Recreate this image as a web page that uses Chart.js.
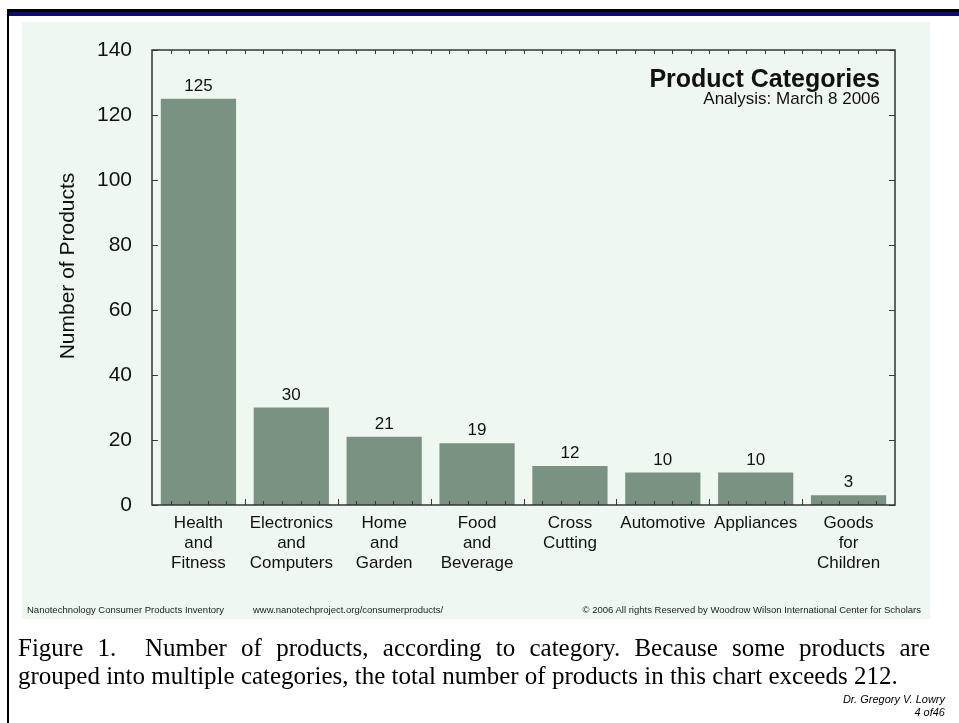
<!DOCTYPE html>
<html>
<head>
<meta charset="utf-8">
<script src="https://cdn.jsdelivr.net/npm/chart.js@4.4.0/dist/chart.umd.min.js"></script>
<style>
  html, body { margin: 0; padding: 0; background: #ffffff; }
  body { width: 959px; height: 723px; position: relative; overflow: hidden; font-family: "Liberation Sans", Arial, sans-serif; }
  .abs { position: absolute; }
  #topBlack { left: 7px; top: 9px; width: 952px; height: 3px; background: #000; }
  #topBlue { left: 7px; top: 12px; width: 952px; height: 4px; background: #0c0c6e; }
  #leftLine { left: 7px; top: 9px; width: 2px; height: 714px; background: #000; }
  #panel { left: 22px; top: 22px; width: 908px; height: 597px; background: #eef8f0; }
  #chartCanvas { left: 0; top: 0; }
  #title { right: 79px; top: 64px; font: bold 25px "Liberation Sans", Arial, sans-serif; color: #111; text-align: right; white-space: nowrap; }
  #subtitle { right: 79px; top: 89px; font: 17px "Liberation Sans", Arial, sans-serif; color: #111; text-align: right; white-space: nowrap; }
  .foot { top: 604px; font: 9.5px "Liberation Sans", Arial, sans-serif; color: #222; white-space: nowrap; }
  .cap { left: 18px; width: 912px; font: 25px "Liberation Serif", "Times New Roman", serif; line-height: 28px; color: #000; white-space: nowrap; }
  #cap1 { top: 634px; text-align: justify; text-align-last: justify; }
  #cap2 { top: 662px; text-align: left; }
  #author { right: 14px; top: 693px; font: italic 11px "Liberation Sans", Arial, sans-serif; color: #000; text-align: right; line-height: 13px; }
</style>
</head>
<body>
<div id="panel" class="abs"></div>
<div id="topBlack" class="abs"></div>
<div id="topBlue" class="abs"></div>
<div id="leftLine" class="abs"></div>
<canvas id="chartCanvas" class="abs" width="959" height="723"></canvas>
<div id="title" class="abs">Product Categories</div>
<div id="subtitle" class="abs">Analysis: March 8 2006</div>
<div class="abs foot" style="left:27px;">Nanotechnology Consumer Products Inventory</div>
<div class="abs foot" style="left:253px;">www.nanotechproject.org/consumerproducts/</div>
<div class="abs foot" style="right:38px;">© 2006 All rights Reserved by Woodrow Wilson International Center for Scholars</div>
<div id="cap1" class="abs cap">Figure 1.&nbsp; Number of products, according to category. Because some products are</div>
<div id="cap2" class="abs cap">grouped into multiple categories, the total number of products in this chart exceeds 212.</div>
<div id="author" class="abs">Dr. Gregory V. Lowry<br>4 of46</div>

<script>
// Product categories and counts
const categories = [
  ["Health", "and", "Fitness"],
  ["Electronics", "and", "Computers"],
  ["Home", "and", "Garden"],
  ["Food", "and", "Beverage"],
  ["Cross", "Cutting"],
  ["Automotive"],
  ["Appliances"],
  ["Goods", "for", "Children"]
];
const productCounts = [125, 30, 21, 19, 12, 10, 10, 3];
const yTicks = [0, 20, 40, 60, 80, 100, 120, 140];

const axisTitle = "Number of Products";

// Frame, inward tick marks, value labels and the vertical axis title
const framePlugin = {
  id: "frameAndLabels",
  afterDatasetsDraw(chart) {
    const ctx = chart.ctx;
    const a = chart.chartArea;
    const y = chart.scales.y;
    ctx.save();
    ctx.strokeStyle = "#3a3a3a";
    ctx.lineWidth = 1;
    // minor ticks along top and bottom edges (five per category)
    const n = categories.length * 5;
    const step = (a.right - a.left) / n;
    for (let k = 1; k < n; k++) {
      const x = Math.round(a.left + k * step) + 0.5;
      const len = (k % 5 === 0) ? 6 : 4;
      ctx.beginPath();
      ctx.moveTo(x, a.top); ctx.lineTo(x, a.top + 4);
      ctx.moveTo(x, a.bottom); ctx.lineTo(x, a.bottom - len);
      ctx.stroke();
    }
    // major ticks on left and right edges
    yTicks.forEach(v => {
      const py = Math.round(y.getPixelForValue(v)) + 0.5;
      ctx.beginPath();
      ctx.moveTo(a.left, py); ctx.lineTo(a.left + 6, py);
      ctx.moveTo(a.right, py); ctx.lineTo(a.right - 6, py);
      ctx.stroke();
    });
    // plot frame
    ctx.lineWidth = 1.5;
    ctx.strokeStyle = "#333";
    ctx.strokeRect(a.left, a.top, a.right - a.left, a.bottom - a.top);

    // value labels above the bars
    ctx.fillStyle = "#111";
    ctx.font = "17px 'Liberation Sans', Arial, sans-serif";
    ctx.textAlign = "center";
    ctx.textBaseline = "alphabetic";
    const meta = chart.getDatasetMeta(0);
    meta.data.forEach((bar, i) => {
      ctx.fillText(String(productCounts[i]), bar.x, bar.y - 8);
    });

    // rotated axis title
    ctx.font = "21px 'Liberation Sans', Arial, sans-serif";
    ctx.textBaseline = "middle";
    ctx.translate(68, 266);
    ctx.rotate(-Math.PI / 2);
    ctx.fillText(axisTitle, 0, 0);
    ctx.restore();
  }
};

new Chart(document.getElementById("chartCanvas"), {
  type: "bar",
  data: {
    labels: categories,
    datasets: [{
      data: productCounts,
      backgroundColor: "#7a9282",
      borderWidth: 0,
      barPercentage: 0.9,
      categoryPercentage: 0.9
    }]
  },
  options: {
    responsive: false,
    devicePixelRatio: 1,
    animation: false,
    layout: { padding: { left: 0, top: 50, right: 64, bottom: 138 } },
    plugins: { legend: { display: false }, tooltip: { enabled: false }, title: { display: false } },
    scales: {
      x: {
        grid: { display: false },
        border: { display: false },
        afterFit(scale) { scale.height = 80; },
        ticks: {
          color: "#111",
          font: { family: "'Liberation Sans', Arial, sans-serif", size: 17, lineHeight: 1.18 },
          padding: 0,
          maxRotation: 0,
          autoSkip: false
        }
      },
      y: {
        min: 0,
        max: 140,
        grid: { display: false },
        border: { display: false },
        afterFit(scale) { scale.width = 152; },
        afterBuildTicks(scale) { scale.ticks = yTicks.map(v => ({ value: v })); },
        ticks: {
          color: "#111",
          font: { family: "'Liberation Sans', Arial, sans-serif", size: 21 },
          padding: 12
        }
      }
    }
  },
  plugins: [framePlugin]
});
</script>
</body>
</html>
